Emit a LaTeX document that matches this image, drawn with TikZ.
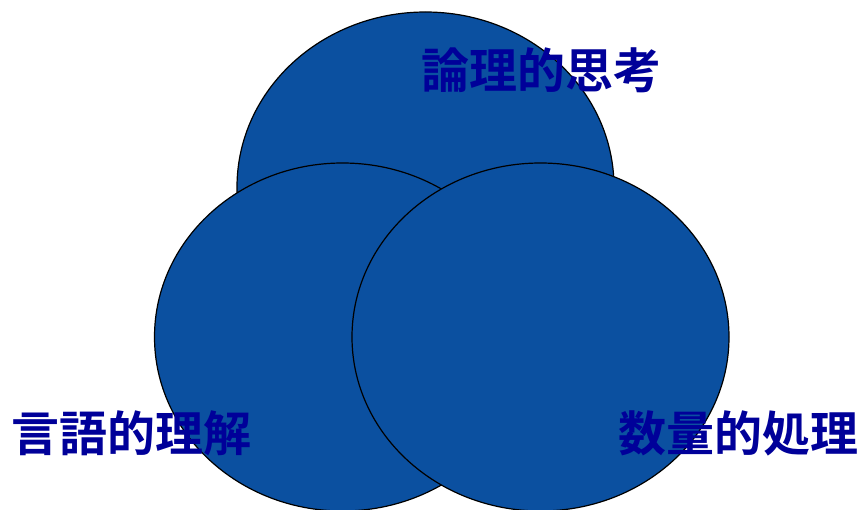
\documentclass[tikz,border=0pt]{standalone}
\usepackage{fontspec}
\newfontfamily\cjk{Noto Sans CJK JP Bold}
\definecolor{circfill}{HTML}{0B50A0}
\definecolor{labcol}{HTML}{000099}
\begin{document}
\begin{tikzpicture}[x=1pt,y=-1pt,
  circ/.style={draw=black,line width=1.2pt,fill=circfill},
  lab/.style={font=\cjk\fontsize{48}{48}\selectfont,text=labcol,inner sep=0pt,anchor=center}]
\useasboundingbox (0,0) rectangle (860,510);
\begin{scope}
\clip (0,0) rectangle (860,510);
\path[circ] (425.5,187) ellipse [x radius=188.5,y radius=175];
\path[circ] (342.5,337) ellipse [x radius=188,y radius=174];
\path[circ] (540.5,337) ellipse [x radius=188.5,y radius=174];
\end{scope}
\node[lab] (top) at (541,70) {論理的思考};
\node[lab] (left) at (132,433) {言語的理解};
\node[lab] (right) at (738,433) {数量的処理};
\end{tikzpicture}
\end{document}
